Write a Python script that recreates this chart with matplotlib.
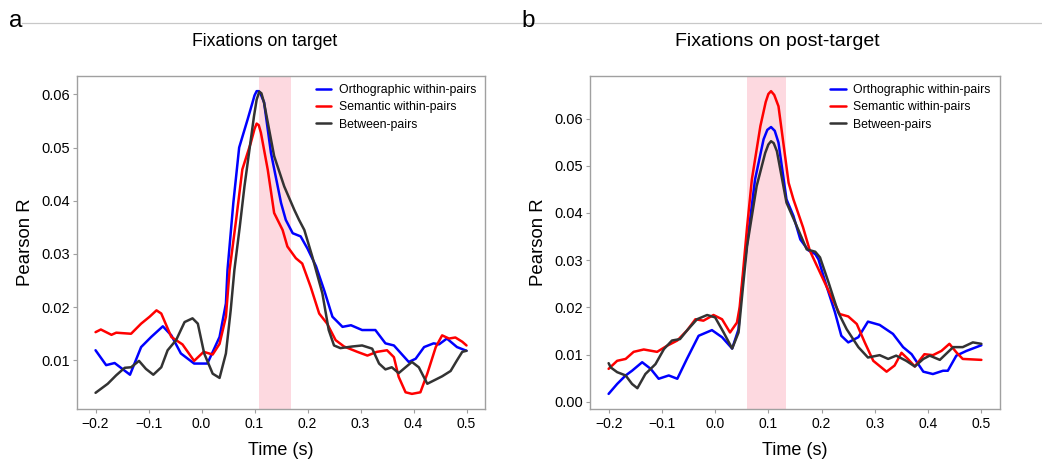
import matplotlib
matplotlib.use("Agg")
import matplotlib.pyplot as plt
from matplotlib.lines import Line2D

plt.rcParams['font.family'] = ['Liberation Sans', 'DejaVu Sans']

# ---------------- data: panel a (fixations on target) ----------------
a_orth_t = [-0.200, -0.180, -0.164, -0.135, -0.114, -0.095, -0.073, -0.057, -0.039, -0.014,
            0.011, 0.034, 0.046, 0.049, 0.060, 0.071, 0.087, 0.096, 0.100, 0.104, 0.108, 0.111, 0.118,
            0.131, 0.150, 0.159, 0.172, 0.187, 0.200, 0.216, 0.232, 0.247, 0.266, 0.282,
            0.303, 0.328, 0.347, 0.363, 0.391, 0.404, 0.420, 0.438, 0.448, 0.463, 0.482, 0.500]
a_orth_r = [0.0119, 0.0091, 0.0095, 0.0073, 0.0125, 0.0144, 0.0164, 0.0147, 0.0113, 0.0094,
            0.0094, 0.0144, 0.0207, 0.0270, 0.0396, 0.0500, 0.0553, 0.0584, 0.0598, 0.0606, 0.0606, 0.0602, 0.0585,
            0.0490, 0.0396, 0.0364, 0.0339, 0.0333, 0.0310, 0.0277, 0.0230, 0.0182, 0.0163, 0.0166,
            0.0157, 0.0157, 0.0132, 0.0128, 0.0097, 0.0103, 0.0125, 0.0132, 0.0130, 0.0141, 0.0125, 0.0118]

a_sem_t = [-0.200, -0.190, -0.170, -0.161, -0.133, -0.114, -0.098, -0.085, -0.076, -0.057,
           -0.036, -0.014, 0.004, 0.021, 0.034, 0.046, 0.053, 0.066, 0.077, 0.093, 0.100, 0.104,
           0.108, 0.112, 0.125, 0.137, 0.153, 0.162, 0.178, 0.190, 0.206, 0.222, 0.237, 0.253,
           0.269, 0.294, 0.313, 0.331, 0.350, 0.363, 0.372, 0.385, 0.397, 0.413, 0.426,
           0.442, 0.454, 0.467, 0.479, 0.492, 0.500]
a_sem_r = [0.0153, 0.0158, 0.0148, 0.0152, 0.0150, 0.0169, 0.0182, 0.0194, 0.0188, 0.0144,
           0.0130, 0.0099, 0.0116, 0.0111, 0.0131, 0.0182, 0.0270, 0.0370, 0.0459, 0.0509, 0.0535, 0.0545,
           0.0542, 0.0528, 0.0458, 0.0377, 0.0345, 0.0314, 0.0292, 0.0282, 0.0238, 0.0188, 0.0169, 0.0138,
           0.0126, 0.0116, 0.0109, 0.0116, 0.0119, 0.0106, 0.0069, 0.0040, 0.0037, 0.0040, 0.0075,
           0.0125, 0.0147, 0.0141, 0.0143, 0.0135, 0.0128]

a_btw_t = [-0.200, -0.177, -0.161, -0.145, -0.133, -0.118, -0.105, -0.091, -0.076, -0.064,
           -0.048, -0.032, -0.017, -0.007, 0.005, 0.021, 0.034, 0.046, 0.055, 0.062, 0.072,
           0.081, 0.099, 0.104, 0.109, 0.113, 0.118, 0.137, 0.156, 0.175, 0.184, 0.194, 0.209, 0.228,
           0.240, 0.250, 0.262, 0.284, 0.303, 0.322, 0.335, 0.347, 0.359, 0.372, 0.385,
           0.397, 0.410, 0.426, 0.438, 0.454, 0.470, 0.482, 0.492, 0.500]
a_btw_r = [0.0039, 0.0056, 0.0072, 0.0086, 0.0087, 0.0099, 0.0084, 0.0073, 0.0087, 0.0119,
           0.0138, 0.0172, 0.0179, 0.0169, 0.0113, 0.0075, 0.0067, 0.0113, 0.0194, 0.0270, 0.0350,
           0.0427, 0.0559, 0.0590, 0.0605, 0.0602, 0.0584, 0.0484, 0.0427, 0.0383, 0.0364, 0.0345, 0.0295, 0.0226,
           0.0157, 0.0128, 0.0123, 0.0126, 0.0128, 0.0122, 0.0094, 0.0083, 0.0087, 0.0076, 0.0087,
           0.0097, 0.0087, 0.0056, 0.0062, 0.0070, 0.0080, 0.0100, 0.0116, 0.0118]

# ---------------- data: panel b (fixations on post-target) ----------------
b_orth_t = [-0.200, -0.184, -0.168, -0.156, -0.137, -0.121, -0.106, -0.087, -0.071, -0.053,
            -0.031, -0.006, 0.013, 0.032, 0.044, 0.047, 0.054, 0.065, 0.075, 0.091, 0.098, 0.105,
            0.112, 0.119, 0.134, 0.147, 0.160, 0.175, 0.188, 0.194, 0.209, 0.225, 0.237, 0.250,
            0.269, 0.287, 0.309, 0.334, 0.353, 0.369, 0.391, 0.409, 0.428, 0.437, 0.453,
            0.472, 0.500]
b_orth_r = [0.0017, 0.0038, 0.0056, 0.0066, 0.0084, 0.0070, 0.0049, 0.0056, 0.0049, 0.0091,
            0.0140, 0.0152, 0.0137, 0.0113, 0.0154, 0.0200, 0.0280, 0.0380, 0.0471, 0.0556, 0.0576, 0.0582,
            0.0574, 0.0549, 0.0429, 0.0394, 0.0344, 0.0321, 0.0313, 0.0302, 0.0246, 0.0190, 0.0140, 0.0126,
            0.0137, 0.0170, 0.0163, 0.0144, 0.0116, 0.0101, 0.0064, 0.0059, 0.0066, 0.0066, 0.0098,
            0.0108, 0.0120]

b_sem_t = [-0.200, -0.184, -0.168, -0.153, -0.134, -0.109, -0.090, -0.071, -0.053, -0.037,
           -0.022, -0.003, 0.013, 0.028, 0.041, 0.046, 0.052, 0.060, 0.069, 0.085, 0.095, 0.100,
           0.105, 0.111, 0.119, 0.138, 0.147, 0.165, 0.178, 0.197, 0.216, 0.234, 0.250, 0.266,
           0.281, 0.297, 0.322, 0.337, 0.350, 0.362, 0.375, 0.393, 0.409, 0.425, 0.440,
           0.453, 0.465, 0.500]
b_sem_r = [0.0070, 0.0087, 0.0091, 0.0106, 0.0111, 0.0106, 0.0119, 0.0130, 0.0151, 0.0175,
           0.0172, 0.0184, 0.0175, 0.0147, 0.0168, 0.0200, 0.0270, 0.0370, 0.0471, 0.0584, 0.0635, 0.0652,
           0.0658, 0.0650, 0.0626, 0.0464, 0.0429, 0.0370, 0.0320, 0.0274, 0.0228, 0.0186, 0.0181, 0.0165,
           0.0126, 0.0087, 0.0064, 0.0077, 0.0104, 0.0091, 0.0075, 0.0101, 0.0099, 0.0108, 0.0123,
           0.0105, 0.0091, 0.0089]

b_btw_t = [-0.200, -0.196, -0.184, -0.168, -0.156, -0.146, -0.131, -0.112, -0.096, -0.081,
           -0.066, -0.053, -0.034, -0.015, 0.000, 0.016, 0.032, 0.044, 0.052, 0.060, 0.078,
           0.094, 0.100, 0.105, 0.110, 0.116, 0.134, 0.153, 0.172, 0.188, 0.197, 0.213, 0.231, 0.247,
           0.269, 0.287, 0.309, 0.325, 0.340, 0.359, 0.375, 0.391, 0.403, 0.422, 0.447,
           0.465, 0.484, 0.500]
b_btw_r = [0.0082, 0.0073, 0.0063, 0.0056, 0.0038, 0.0029, 0.0059, 0.0080, 0.0112, 0.0130,
           0.0133, 0.0151, 0.0175, 0.0184, 0.0179, 0.0147, 0.0113, 0.0147, 0.0240, 0.0330, 0.0457,
           0.0527, 0.0545, 0.0552, 0.0548, 0.0531, 0.0422, 0.0373, 0.0323, 0.0318, 0.0306, 0.0253, 0.0190, 0.0154,
           0.0116, 0.0094, 0.0099, 0.0091, 0.0098, 0.0087, 0.0075, 0.0091, 0.0098, 0.0089, 0.0116,
           0.0116, 0.0126, 0.0123]

labels = ["Orthographic within-pairs", "Semantic within-pairs", "Between-pairs"]
colors = ["#0000ff", "#ff0000", "#333333"]
a_window = (0.109, 0.169)
b_window = (0.060, 0.133)
x_ticks = [-0.2, -0.1, 0.0, 0.1, 0.2, 0.3, 0.4, 0.5]
a_yticks = [0.01, 0.02, 0.03, 0.04, 0.05, 0.06]
b_yticks = [0.00, 0.01, 0.02, 0.03, 0.04, 0.05, 0.06]

fig = plt.figure(figsize=(10.42, 4.59), dpi=100)
axA = fig.add_axes([0.0739, 0.1089, 0.3916, 0.7255])
axB = fig.add_axes([0.5662, 0.1089, 0.3935, 0.7255])

spine_col = "#a0a0a0"


def draw(ax, series, window, yticks, title_x, title, title_size):
    ax.axvspan(window[0], window[1], color="#fdd9e0", lw=0, zorder=0)
    handles = []
    for (t, r), lab, c in zip(series, labels, colors):
        ln, = ax.plot(t, r, color=c, lw=1.8, label=lab, zorder=2,
                      solid_capstyle='round', solid_joinstyle='round')
        handles.append(ln)
    ax.set_xticks(x_ticks)
    ax.set_xticklabels([f"{v:.1f}".replace("-", "\u2212") for v in x_ticks])
    ax.set_yticks(yticks)
    ax.set_yticklabels([f"{v:.2f}" for v in yticks])
    ax.tick_params(axis='x', labelsize=10, length=3, color=spine_col, width=0.8, pad=2.5)
    ax.tick_params(axis='y', labelsize=10.5, length=3, color=spine_col, width=0.8, pad=2)
    for s in ax.spines.values():
        s.set_color(spine_col)
        s.set_linewidth(1.0)
    ax.set_xlabel("Time (s)", fontsize=13, labelpad=8)
    ax.set_ylabel("Pearson R", fontsize=13.4, labelpad=5)
    ax.legend(handles=handles, loc='upper left', bbox_to_anchor=(0.586, 0.975),
              frameon=False, fontsize=8.8, handlelength=1.25, handletextpad=0.6,
              labelspacing=0.42, borderpad=0, borderaxespad=0)
    fig.text(title_x, 1 - 42 / 459, title, fontsize=title_size, ha='center', va='center')


draw(axA, [(a_orth_t, a_orth_r), (a_sem_t, a_sem_r), (a_btw_t, a_btw_r)],
     a_window, a_yticks, 264.5 / 1042, "Fixations on target", 12.7)
draw(axB, [(b_orth_t, b_orth_r), (b_sem_t, b_sem_r), (b_btw_t, b_btw_r)],
     b_window, b_yticks, 777 / 1042, "Fixations on post-target", 14)

# header rule and panel letters
fig.add_artist(Line2D([22 / 1042, 1.0], [1 - 23 / 459, 1 - 23 / 459],
                      color="#c8c8c8", lw=0.9, transform=fig.transFigure))
fig.text(9 / 1042, 1 - 27 / 459, "a", fontsize=17.5, ha='left', va='baseline')
fig.text(521 / 1042, 1 - 27 / 459, "b", fontsize=17.5, ha='left', va='baseline')

fig.savefig("out.png", dpi=100)
